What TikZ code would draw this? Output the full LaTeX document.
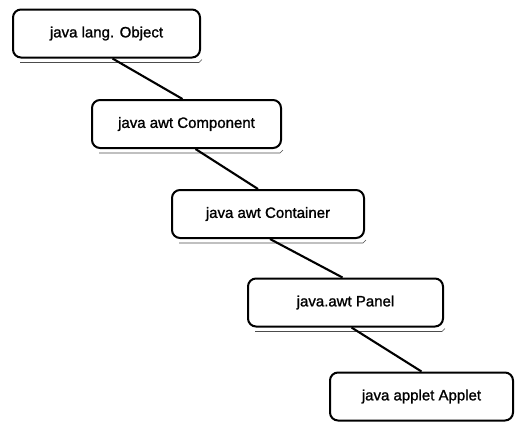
\documentclass[tikz,border=0pt]{standalone}
\usepackage{fontspec}
\setmainfont{Liberation Sans}
\newfontfamily\labelfont[FakeBold=1.2]{Liberation Sans}
\begin{document}
\begin{tikzpicture}[x=1pt,y=-1pt,
  classbox/.style={draw=black, line width=2pt, rounded corners=8pt, fill=white,
    minimum height=48pt, inner sep=0pt, font=\labelfont\fontsize{15}{17}\selectfont},
  link/.style={draw=black, line width=2.1pt},
  shade/.style={draw=black!70, line width=0.6pt}]
  \useasboundingbox (0,0) rectangle (515,424);

  % class hierarchy, one box per class
  \node[classbox, minimum width=187pt] (obj)  at (106.5,33.5)  {java lang. Object};
  \node[classbox, minimum width=189pt] (comp) at (186.5,124)   {java awt Component};
  \node[classbox, minimum width=192pt] (cont) at (268,214)     {java awt Container};
  \node[classbox, minimum width=195pt] (pan)  at (345.5,302.5) {java.awt Panel};
  \node[classbox, minimum width=183pt] (app)  at (421.5,396.5) {java applet Applet};

  % faint shadow line under each box
  \foreach \b in {obj,comp,cont,pan}{
    \draw[shade] ([xshift=8pt,yshift=-4pt]\b.south west) -- ([xshift=-2pt,yshift=-4pt]\b.south east)
      -- ([xshift=1pt,yshift=-1pt]\b.south east);
  }

  % inheritance links
  \draw[link] ([xshift=6pt]obj.south)  -- ([xshift=-4pt]comp.north);
  \draw[link] ([xshift=9pt]comp.south) -- ([xshift=-10pt]cont.north);
  \draw[link] ([xshift=2pt]cont.south) -- ([xshift=-3pt]pan.north);
  \draw[link] ([xshift=6pt]pan.south)  -- ([xshift=0pt]app.north);
\end{tikzpicture}
\end{document}
